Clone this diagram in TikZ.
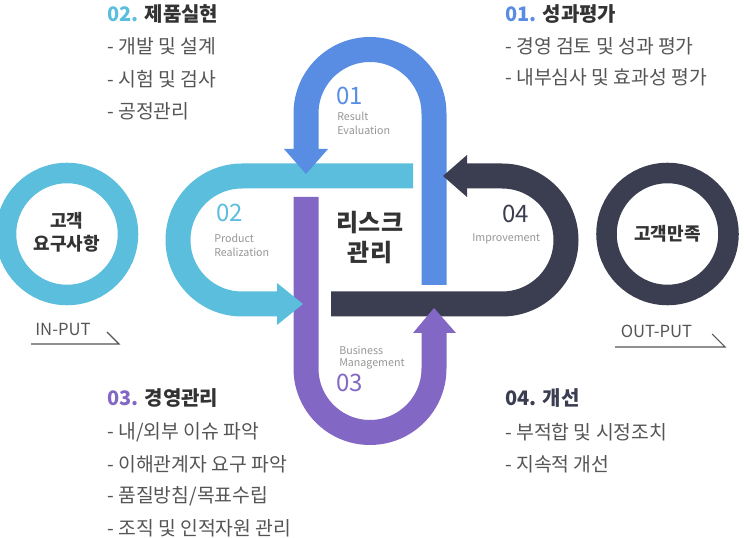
\documentclass[tikz,border=0pt]{standalone}
\usepackage{fontspec}
\setmainfont{Noto Sans CJK KR}
\usepackage{tikz}
\definecolor{blueA}{RGB}{88,141,227}
\definecolor{cyanB}{RGB}{90,190,220}
\definecolor{purpleC}{RGB}{130,104,196}
\definecolor{darkD}{RGB}{58,62,80}
\definecolor{txtgrey}{RGB}{85,85,85}
\definecolor{txtdark}{RGB}{51,51,51}
\definecolor{taggrey}{RGB}{150,150,150}
\tikzstyle{band}=[line width=18.75pt]
\tikzstyle{ring}=[line width=15.4pt]
\tikzstyle{title}=[anchor=west,inner sep=0pt,text=txtdark,font=\fontsize{15pt}{17pt}\selectfont\bfseries]
\tikzstyle{item}=[anchor=west,inner sep=0pt,text=txtgrey,font=\fontsize{14.5pt}{16pt}\selectfont]
\tikzstyle{num}=[anchor=west,inner sep=0pt,font=\fontsize{18pt}{20pt}\selectfont]
\tikzstyle{tag}=[anchor=west,inner sep=0pt,text=taggrey,font=\fontsize{8pt}{9pt}\selectfont]
\tikzstyle{put}=[inner sep=0pt,text=txtgrey,font=\fontsize{12.5pt}{14pt}\selectfont]
\tikzstyle{putline}=[draw,txtgrey,line width=0.8pt]

\begin{document}
\begin{tikzpicture}[x=0.75pt,y=-0.75pt]
        \useasboundingbox (0,0) rectangle (744,538);
        % loops
        \draw[band,blueA] (434,285) -- (434,113.5) arc[start angle=0,end angle=-180,radius=64] -- (306,149);
        \draw[band,cyanB] (413,176) -- (242,176) arc[start angle=-90,end angle=-270,radius=64] -- (277,304);
        \draw[band,purpleC] (306,197) -- (306,368.5) arc[start angle=180,end angle=0,radius=64] -- (434,333);
        \draw[band,darkD] (331,304) -- (502,304) arc[start angle=90,end angle=-90,radius=64] -- (467,176);
        % arrow heads
        \fill[blueA] (284,149) -- (328,149) -- (306,174) -- cycle;
        \fill[cyanB] (277,283) -- (277,325) -- (303,304) -- cycle;
        \fill[purpleC] (413,333) -- (456,333) -- (434,308) -- cycle;
        \fill[darkD] (467,155) -- (467,197) -- (443,176) -- cycle;
        % loop labels
        \node[num,text=blueA] (n01) at (336,96) {01};
        \node[tag] (t01a) at (337,116) {Result};
        \node[tag] (t01b) at (337,130) {Evaluation};
        \node[num,text=cyanB] (n02) at (216,213) {02};
        \node[tag] (t02a) at (214,238) {Product};
        \node[tag] (t02b) at (214,252) {Realization};
        \node[tag] (t03a) at (339,350) {Business};
        \node[tag] (t03b) at (339,364) {Management};
        \node[num,text=purpleC] (n03) at (336,383) {03};
        \node[num,text=darkD] (n04) at (502,214) {04};
        \node[tag] (t04) at (472,239) {Improvement};
        \node[align=center,inner sep=0pt,text=txtdark,font=\fontsize{18pt}{22.5pt}\selectfont\bfseries] (risk) at (370,238) {리스크\\관리};
        % input / output
        \draw[ring,cyanB] (67,234) circle[radius=61];
        \node[align=center,inner sep=0pt,text=txtdark,font=\fontsize{13.5pt}{17.25pt}\selectfont\bfseries] (need) at (67,232) {고객\\요구사항};
        \draw[ring,darkD] (667.5,234) circle[radius=61];
        \node[inner sep=0pt,text=txtdark,font=\fontsize{13.5pt}{15pt}\selectfont\bfseries] (satis) at (667.5,234) {고객만족};
        \node[put] (inp) at (63,330) {IN-PUT};
        \draw[putline] (31,344) -- (119,344) -- (107,332);
        \node[put] (outp) at (656.5,331) {OUT-PUT};
        \draw[putline] (615,347) -- (725,347) -- (712,334);
        % 02
        \node[title] (h02) at (107,14) {{\color{cyanB}02.} 제품실현};
        \node[item] (i21) at (107,46) {- 개발 및 설계};
        \node[item] (i22) at (107,79) {- 시험 및 검사};
        \node[item] (i23) at (107,111) {- 공정관리};
        % 01
        \node[title] (h01) at (505,14) {{\color{blueA}01.} 성과평가};
        \node[item] (i11) at (505,46) {- 경영 검토 및 성과 평가};
        \node[item] (i12) at (505,77) {- 내부심사 및 효과성 평가};
        % 03
        \node[title] (h03) at (107,398) {{\color{purpleC}03.} 경영관리};
        \node[item] (i31) at (107,432) {- 내/외부 이슈 파악};
        \node[item] (i32) at (107,464) {- 이해관계자 요구 파악};
        \node[item] (i33) at (107,496) {- 품질방침/목표수립};
        \node[item] (i34) at (107,528) {- 조직 및 인적자원 관리};
        % 04
        \node[title,text=darkD] (h04) at (505,398) {04. 개선};
        \node[item] (i41) at (505,432) {- 부적합 및 시정조치};
        \node[item] (i42) at (505,464) {- 지속적 개선};
      \end{tikzpicture}
\end{document}
